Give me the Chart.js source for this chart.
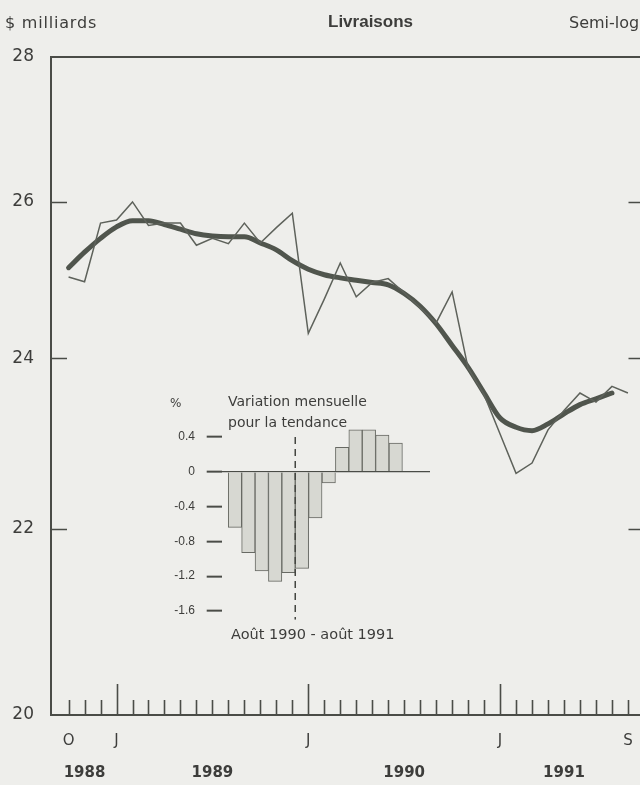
<!DOCTYPE html>
<html lang="fr">
<head>
<meta charset="UTF-8">
<title>Livraisons</title>
<script src="https://cdn.jsdelivr.net/npm/chart.js"></script>
<style>
  html, body { margin: 0; padding: 0; background: #eeeeeb; overflow: hidden; }
  #wrap { position: relative; width: 640px; height: 785px; overflow: hidden; }
  #main { position: absolute; left: 0; top: 0; }
  #inset { position: absolute; left: 150px; top: 380px; }
  .lbl { position: absolute; color: #3d3d3b; font-family: "DejaVu Sans", sans-serif; white-space: nowrap; line-height: 1; }
</style>
</head>
<body>
<div id="wrap">
  <canvas id="main" width="670" height="785"></canvas>
  <canvas id="inset" width="290" height="260"></canvas>

  <div class="lbl" style="left:5px; top:15px; font-size:16px; letter-spacing:0.8px;">$ milliards</div>
  <div class="lbl" style="left:328px; top:13px; font-size:17px; font-weight:bold; font-family:'Liberation Sans', sans-serif;">Livraisons</div>
  <div class="lbl" style="left:569px; top:15px; font-size:16px;">Semi-log</div>

  <div class="lbl" style="left:170px; top:397px; font-size:12px;">%</div>
  <div class="lbl" style="left:228px; top:394px; font-size:14px;">Variation mensuelle</div>
  <div class="lbl" style="left:228px; top:415px; font-size:14px;">pour la tendance</div>
  <div class="lbl" style="left:231px; top:627px; font-size:14.5px;">Août 1990 - août 1991</div>
</div>

<script>
    // Mois (oct. 1988 a sept. 1991)
    const months = ['oct. 1988', 'nov. 1988', 'déc. 1988', 'janv. 1989', 'févr. 1989', 'mars 1989',
        'avr. 1989', 'mai 1989', 'juin 1989', 'juil. 1989', 'août 1989', 'sept. 1989',
        'oct. 1989', 'nov. 1989', 'déc. 1989', 'janv. 1990', 'févr. 1990', 'mars 1990',
        'avr. 1990', 'mai 1990', 'juin 1990', 'juil. 1990', 'août 1990', 'sept. 1990',
        'oct. 1990', 'nov. 1990', 'déc. 1990', 'janv. 1991', 'févr. 1991', 'mars 1991',
        'avr. 1991', 'mai 1991', 'juin 1991', 'juil. 1991', 'août 1991', 'sept. 1991'];

    // Livraisons mensuelles, $ milliards
    const shipments = [25.02, 24.96, 25.72, 25.76, 26.00, 25.69, 25.72, 25.72, 25.43, 25.52,
        25.45, 25.72, 25.46, 25.66, 25.85, 24.31, 24.74, 25.20, 24.77, 24.95,
        25.00, 24.82, 24.63, 24.44, 24.83, 23.88, 23.56, 23.09, 22.63, 22.75,
        23.14, 23.37, 23.58, 23.47, 23.66, 23.58];

    // Tendance (jusqu'a août 1991)
    const trend = [25.14, 25.34, 25.52, 25.67, 25.75, 25.75, 25.70, 25.64, 25.58, 25.55,
        25.54, 25.54, 25.46, 25.37, 25.23, 25.12, 25.05, 25.01, 24.98, 24.95,
        24.92, 24.81, 24.65, 24.43, 24.16, 23.89, 23.58, 23.28, 23.17, 23.13,
        23.21, 23.33, 23.44, 23.51, 23.58];

    const yTicks = [20, 22, 24, 26, 28];
    const letterMonths = ['oct. 1988', 'janv. 1989', 'janv. 1990', 'janv. 1991', 'sept. 1991'];
    const yearLabels = ['1988', '1989', '1990', '1991'];
    const yearLabelMonths = ['nov. 1988', 'juil. 1989', 'juil. 1990', 'mai 1991'];

    // Encadre : variation mensuelle de la tendance, %
    const insetMonths = ['août 1990', 'sept. 1990', 'oct. 1990', 'nov. 1990', 'déc. 1990', 'janv. 1991',
        'févr. 1991', 'mars 1991', 'avr. 1991', 'mai 1991', 'juin 1991', 'juil. 1991', 'août 1991'];
    const trendChange = [-0.64, -0.93, -1.14, -1.26, -1.16, -1.11, -0.53, -0.13, 0.28, 0.48, 0.48, 0.42, 0.33];
    const insetTicks = [0.4, 0, -0.4, -0.8, -1.2, -1.6];

    const textColor = '#3d3d3b';
    const inkColor = '#50554d';

    // cadre + petites graduations tournees vers l'interieur
    const framePlugin = {
        id: 'frame',
        afterDraw(chart) {
            const { ctx, chartArea: a, scales: { x, y } } = chart;
            ctx.save();
            ctx.strokeStyle = '#4a4c47';
            ctx.lineWidth = 2;
            ctx.strokeRect(a.left, a.top, a.right - a.left, a.bottom - a.top);
            ctx.lineWidth = 1.6;
            ctx.beginPath();
            y.ticks.forEach(t => {
                if (t.value === y.min || t.value === y.max) return;
                const py = Math.round(y.getPixelForValue(t.value)) + 0.5;
                ctx.moveTo(a.left, py); ctx.lineTo(a.left + 16, py);
                ctx.moveTo(a.right - 17, py); ctx.lineTo(a.right, py);
            });
            x.ticks.forEach(t => {
                const px = Math.round(x.getPixelForValue(t.value)) + 0.5;
                const len = months[t.value].startsWith('janv') ? 31 : 15;
                ctx.moveTo(px, a.bottom); ctx.lineTo(px, a.bottom - len);
            });
            ctx.stroke();
            ctx.restore();
        }
    };

    new Chart(document.getElementById('main'), {
        type: 'line',
        data: {
            datasets: [{
                label: 'Livraisons',
                data: shipments.map((v, i) => ({ x: i, y: v })),
                borderColor: '#5e625b',
                borderWidth: 1.5,
                pointRadius: 0,
                tension: 0
            }, {
                label: 'Tendance',
                data: trend.map((v, i) => ({ x: i, y: v })),
                borderColor: inkColor,
                borderWidth: 5,
                pointRadius: 0,
                cubicInterpolationMode: 'monotone',
                borderCapStyle: 'round'
            }]
        },
        options: {
            responsive: false,
            animation: false,
            layout: { padding: { top: 57, right: 24.5, left: 0, bottom: 0 } },
            plugins: { legend: { display: false }, tooltip: { enabled: false } },
            scales: {
                x: {
                    type: 'linear',
                    min: -1.1,
                    max: 36.1,
                    grid: { display: false, drawTicks: false },
                    border: { display: false },
                    afterBuildTicks: s => { s.ticks = months.map((m, i) => ({ value: i })); },
                    afterFit: s => { s.height = 70; },
                    ticks: {
                        autoSkip: false,
                        maxRotation: 0,
                        padding: 10,
                        color: textColor,
                        font: ctx => ({
                            family: 'DejaVu Sans',
                            size: 15,
                            weight: yearLabelMonths.includes(months[ctx.index]) ? 'bold' : 'normal',
                            lineHeight: '32px'
                        }),
                        callback: (v, i) => {
                            const m = months[i];
                            const letter = letterMonths.includes(m) ? m.charAt(0).toUpperCase() : '';
                            const yi = yearLabelMonths.indexOf(m);
                            return yi >= 0 ? [letter, yearLabels[yi]] : letter;
                        }
                    }
                },
                y: {
                    type: 'logarithmic',
                    min: 20,
                    max: 28,
                    grid: { display: false, drawTicks: false },
                    border: { display: false },
                    afterBuildTicks: s => { s.ticks = yTicks.map(v => ({ value: v })); },
                    afterFit: s => { s.width = 51; },
                    ticks: {
                        padding: 17,
                        color: textColor,
                        font: { family: 'DejaVu Sans', size: 17 },
                        callback: v => String(v)
                    }
                }
            }
        },
        plugins: [framePlugin]
    });

    const insetMin = -1.7;
    const breakX = insetMonths.indexOf('janv. 1991') - 0.5;

    new Chart(document.getElementById('inset'), {
        type: 'bar',
        data: {
            datasets: [{
                type: 'line',
                data: [{ x: breakX, y: insetTicks[0] }, { x: breakX, y: insetMin }],
                borderColor: '#444641',
                borderWidth: 1.5,
                borderDash: [7, 5],
                pointRadius: 0
            }, {
                type: 'bar',
                data: trendChange.map((v, i) => ({ x: i, y: v })),
                backgroundColor: '#d7d8d2',
                borderColor: '#676963',
                borderWidth: 1,
                barPercentage: 1,
                categoryPercentage: 1
            }]
        },
        options: {
            responsive: false,
            animation: false,
            layout: { padding: { left: 0, right: 10, top: 39.5, bottom: 20.3 } },
            plugins: { legend: { display: false }, tooltip: { enabled: false } },
            scales: {
                x: { type: 'linear', min: -0.99, max: 14.56, offset: false, display: false },
                y: {
                    min: insetMin,
                    max: 0.6,
                    border: { display: false },
                    afterBuildTicks: s => { s.ticks = insetTicks.map(v => ({ value: v })); },
                    afterFit: s => { s.width = 71.7; },
                    grid: {
                        color: c => (c.tick && c.tick.value === 0) ? '#4a4c47' : 'rgba(0,0,0,0)',
                        tickColor: '#4a4c47',
                        tickLength: 15,
                        tickWidth: 2,
                        lineWidth: 1.3
                    },
                    ticks: {
                        padding: 11.7,
                        color: textColor,
                        font: { family: 'Liberation Sans', size: 12 },
                        callback: v => v === 0 ? '0' : v.toFixed(1)
                    }
                }
            }
        }
    });
</script>
</body>
</html>
